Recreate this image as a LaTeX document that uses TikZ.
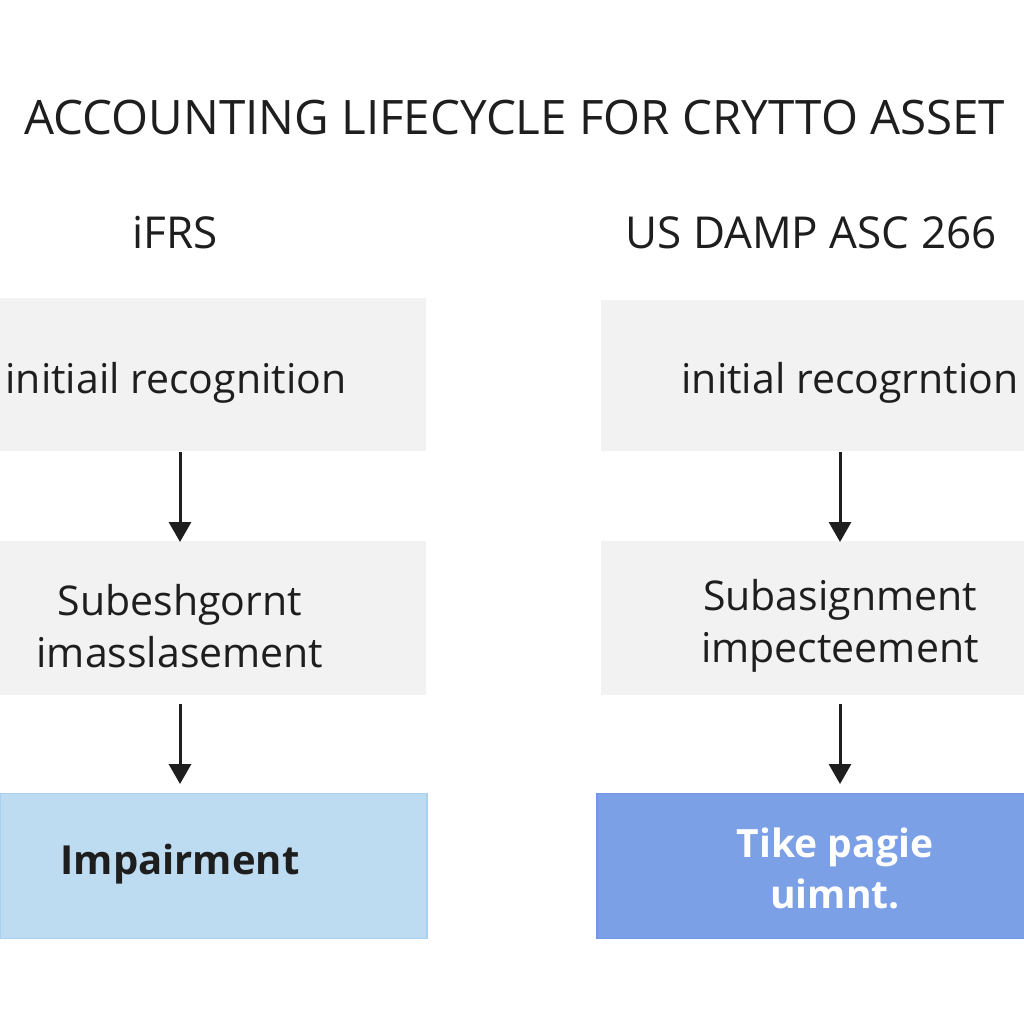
\documentclass[tikz,border=0pt]{standalone}
\usepackage{fontspec}
\setmainfont{Open Sans}
\usetikzlibrary{arrows.meta}
\definecolor{boxgray}{HTML}{F2F2F2}
\definecolor{lightblue}{HTML}{BDDCF1}
\definecolor{lightblueedge}{HTML}{A9D0EE}
\definecolor{midblue}{HTML}{7BA0E6}
\definecolor{midblueedge}{HTML}{6F96E8}
\definecolor{ink}{HTML}{1E1E1E}
\begin{document}
\begin{tikzpicture}[x=1pt,y=-1pt,
  lbbox/.style={draw=lightblueedge,line width=1.5pt,fill=lightblue,text=ink,align=center,inner sep=0pt},
  mbbox/.style={draw=midblueedge,line width=1.5pt,fill=midblue,text=white,align=center,inner sep=0pt},
  flow/.style={draw=ink,line width=3pt,-{Triangle[length=20pt,width=22pt]}},
  boxtext/.style={font=\fontsize{41}{52}\selectfont},
]
\useasboundingbox (0,0) rectangle (1024,1024);
\fill[white] (0,0) rectangle (1024,1024);
% title
\node[text=ink,font=\fontsize{47.5}{56}\selectfont] (title) at (515,118) {ACCOUNTING LIFECYCLE FOR CRYTTO ASSET};
\node[text=ink,font=\fontsize{44}{52}\selectfont] (ifrs) at (175,233) {iFRS};
\node[text=ink,font=\fontsize{44}{52}\selectfont] (usgaap) at (811,233) {US DAMP ASC 266};
% left column boxes
\fill[boxgray] (0,298) rectangle (426,451);
\node[text=ink,boxtext,anchor=west] (l1) at (2,383) {initiail recognition};
\fill[boxgray] (0,541) rectangle (426,695);
\node[text=ink,boxtext,align=center] (l2) at (180,626) {Subeshgornt\\imasslasement};
\node[lbbox,minimum width=427pt,minimum height=145pt] (l3) at (213.5,866) {};
\node[text=ink,font=\fontsize{40}{50}\selectfont\bfseries] (l3t) at (180,864) {Impairment};
% right column boxes
\fill[boxgray] (601,300) rectangle (1024,451);
\node[text=ink,boxtext,anchor=east] (r1) at (1022,383) {initial recogrntion};
\fill[boxgray] (601,541) rectangle (1024,695);
\node[text=ink,boxtext,align=center] (r2) at (840,626) {Subasignment\\impecteement};
\node[mbbox,minimum width=428pt,minimum height=145pt] (r3) at (811,866) {};
\node[text=white,font=\fontsize{39}{51}\selectfont\bfseries,align=center] (r3t) at (835,868) {Tike pagie\\uimnt.};
% arrows
\coordinate (a1s) at (180,452); \coordinate (a1e) at (180,542);
\coordinate (a2s) at (180,704); \coordinate (a2e) at (180,784);
\coordinate (b1s) at (840,452); \coordinate (b1e) at (840,542);
\coordinate (b2s) at (840,704); \coordinate (b2e) at (840,784);
\draw[flow] (a1s) -- (a1e);
\draw[flow] (a2s) -- (a2e);
\draw[flow] (b1s) -- (b1e);
\draw[flow] (b2s) -- (b2e);
\end{tikzpicture}
\end{document}
